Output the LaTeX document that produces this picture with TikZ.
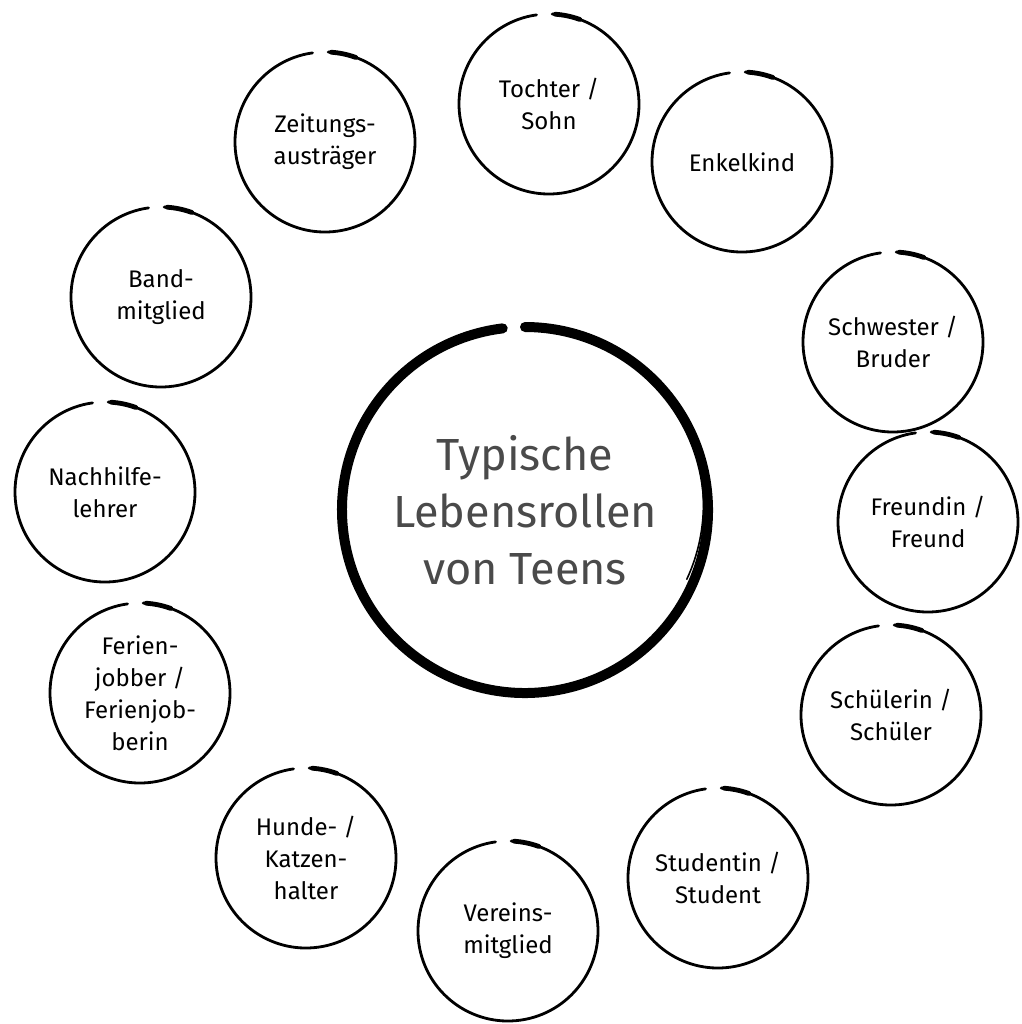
\documentclass[tikz,border=0pt]{standalone}
\usepackage{fontspec}
\setmainfont{Fira Sans}
\definecolor{titlegray}{HTML}{4A4A4A}

\begin{document}
\begin{tikzpicture}[x=0.5pt, y=-0.5pt,
  role/.style={circle, minimum size=90pt, inner sep=0pt, outer sep=0pt, align=center,
    font=\fontsize{12}{16}\selectfont},
  core/.style={circle, minimum size=183pt, inner sep=0pt, outer sep=0pt, align=center,
    text=titlegray, font=\fontsize{22.5}{28.5}\selectfont},
  brush/.style={line width=1.4pt, line cap=round}]
\useasboundingbox (0,0) rectangle (1022,1024);
\node[core] (teens) at (525,510) {Typische\\Lebensrollen\\von Teens};
\node[role] (tochter) at (549,104) {Tochter /\\Sohn};
\node[role] (enkel) at (742,162) {Enkelkind};
\node[role] (schwester) at (893,342) {Schwester /\\Bruder};
\node[role] (freundin) at (928,522) {Freundin /\\Freund};
\node[role] (schueler) at (891,715) {Schülerin /\\Schüler};
\node[role] (student) at (718,878) {Studentin /\\Student};
\node[role] (verein) at (508,931) {Vereins-\\mitglied};
\node[role] (halter) at (306,858) {Hunde- /\\Katzen-\\halter};
\node[role] (ferien) at (140,693) {Ferien-\\jobber /\\Ferienjob-\\berin};
\node[role] (nachhilfe) at (105,492) {Nachhilfe-\\lehrer};
\node[role] (band) at (161,297) {Band-\\mitglied};
\node[role] (zeitung) at (325,142) {Zeitungs-\\austräger};
\foreach \n in {tochter,enkel,schwester,freundin,schueler,student,verein,halter,ferien,nachhilfe,band,zeitung} {
  \draw[brush] (\n.98) arc[start angle=98, end angle=448, radius=45pt];
  \draw[line width=2.4pt, line cap=round] (\n.86) arc[start angle=86, end angle=70, radius=45pt];
}
\draw[line width=5pt, line cap=round] (teens.97) arc[start angle=97, end angle=450, radius=91.5pt];
\draw[line width=0.8pt, line cap=round] (teens.78) arc[start angle=78, end angle=-25, radius=88.6pt];
\end{tikzpicture}
\end{document}
